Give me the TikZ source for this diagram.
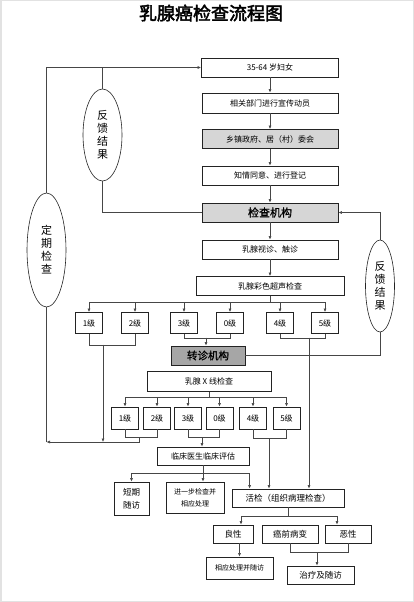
\documentclass[tikz,border=0pt]{standalone}
\usepackage{fontspec}
\newfontfamily\cjk{Noto Sans CJK SC}
\newfontfamily\cjkbold{Noto Sans CJK SC}[FakeBold=2.5]
\newfontfamily\cjkkey{Noto Sans CJK SC}[FakeBold=1]
\usetikzlibrary{arrows.meta,positioning,calc,shapes.geometric}
\definecolor{inkBlack}{RGB}{35,35,35}
\definecolor{inkLine}{RGB}{70,70,70}
\definecolor{fillLight}{RGB}{214,214,214}
\definecolor{fillDark}{RGB}{166,166,166}
\definecolor{frameGray}{RGB}{226,226,226}

\begin{document}
\begin{tikzpicture}[
    x=1pt, y=-1pt,
    box/.style={draw=inkBlack, fill=white, line width=0.8pt, inner sep=1pt, align=center, font=\cjk\fontsize{8pt}{10pt}\selectfont},
    hibox/.style={box, fill=fillLight},
    keybox/.style={box, fill=fillDark, font=\cjkkey\fontsize{10.5pt}{12pt}\selectfont},
    grade/.style={box, minimum width=27pt, minimum height=21pt},
    oval/.style={draw=inkBlack, ellipse, line width=0.6pt, inner sep=0pt, align=center, font=\cjk\fontsize{11pt}{13pt}\selectfont},
    arr/.style={-{Latex[length=3.5pt, width=3pt]}, line width=0.6pt, color=inkLine},
    ln/.style={line width=0.6pt, color=inkLine}
  ]
    \useasboundingbox (0,0) rectangle (414,602);
    \draw[frameGray, line width=1.5pt] (0.75,0.75) rectangle (413.25,601.25);

    \node[font=\cjkbold\fontsize{18pt}{21pt}\selectfont] (title) at (211,13) {乳腺癌检查流程图};

    % main chain
    \node[box, minimum width=137pt, minimum height=19pt] (women) at (270,67.5) {35-64 岁妇女};
    \node[box, minimum width=136pt, minimum height=20pt] (publicity) at (270,103) {相关部门进行宣传动员};
    \node[hibox, minimum width=136pt, minimum height=19pt] (township) at (270,139) {乡镇政府、居（村）委会};
    \node[box, minimum width=136pt, minimum height=19pt] (consent) at (270,175.5) {知情同意、进行登记};
    \node[hibox, minimum width=136pt, minimum height=19pt, font=\cjkkey\fontsize{11pt}{13pt}\selectfont] (inst) at (270,212.5) {检查机构};
    \node[box, minimum width=136pt, minimum height=19pt] (palpate) at (270,249.5) {乳腺视诊、触诊};
    \node[box, minimum width=148pt, minimum height=19pt] (ultra) at (270,286) {乳腺彩色超声检查};

    \draw[arr] (women) -- (publicity);
    \draw[arr] (publicity) -- (township);
    \draw[arr] (township) -- (consent);
    \draw[arr] (consent) -- (inst);
    \draw[arr] (inst) -- (palpate);
    \draw[arr] (palpate) -- (ultra);

    % ultrasound grades
    \foreach \n/\x in {1/89,2/135,3/184,0/230,4/280,5/325}
      \node[grade] (u\n) at (\x,323) {\n 级};
    \foreach \n in {1,2,3,0,4,5}
      \draw[arr] (ultra.south) -- ++(0,6) -| (u\n.north);

    \node[keybox, minimum width=74pt, minimum height=19pt] (refer) at (208,355.5) {转诊机构};
    \node[box, minimum width=124pt, minimum height=20pt] (xray) at (209,381.5) {乳腺 X 线检查};

    % mammography grades
    \foreach \n/\x in {1/125,2/157,3/188,0/219.5,4/253,5/286.5}
      \node[grade, minimum height=22pt] (m\n) at (\x,418) {\n 级};
    \foreach \n in {1,2,3,0,4,5}
      \draw[arr] (xray.south) -- ++(0,5.5) -| (m\n.north);

    % lower part
    \node[box, minimum width=92pt, minimum height=18pt] (eval) at (203,456) {临床医生临床评估};
    \node[box, minimum width=35pt, minimum height=33pt, font=\cjk\fontsize{8.5pt}{13pt}\selectfont] (short) at (131.5,498.5) {短期\\随访};
    \node[box, minimum width=58pt, minimum height=31pt, font=\cjk\fontsize{7pt}{12pt}\selectfont] (further) at (195,497.5) {进一步检查并\\相应处理};
    \node[box, minimum width=112pt, minimum height=18pt, font=\cjk\fontsize{8.5pt}{10pt}\selectfont] (biopsy) at (288,498) {活检（组织病理检查）};
    \node[box, minimum width=40pt, minimum height=18pt, font=\cjk\fontsize{8.5pt}{10pt}\selectfont] (benign) at (233,534) {良性};
    \node[box, minimum width=56pt, minimum height=18pt, font=\cjk\fontsize{8.5pt}{10pt}\selectfont] (precancer) at (290,534) {癌前病变};
    \node[box, minimum width=46pt, minimum height=18pt, font=\cjk\fontsize{8.5pt}{10pt}\selectfont] (malign) at (348,534) {恶性};
    \node[box, minimum width=67pt, minimum height=22pt, font=\cjk\fontsize{7pt}{9pt}\selectfont] (followup) at (239.5,568) {相应处理并随访};
    \node[box, minimum width=67pt, minimum height=18pt, font=\cjk\fontsize{8.5pt}{10pt}\selectfont] (treat) at (320.5,575) {治疗及随访};

    % feedback ovals
    \node[oval, minimum width=39pt, minimum height=92pt] (fbTop) at (102.5,135) {反\\馈\\结\\果};
    \node[oval, minimum width=39pt, minimum height=114pt] (fbPeriod) at (46.5,250) {定\\期\\检\\查};
    \node[oval, minimum width=29pt, minimum height=92pt] (fbRight) at (380,286) {反\\馈\\结\\果};

    \coordinate (back) at (46.5,442);
    \coordinate (u12) at (103,344.5);
    \coordinate (u30) at (206,337.5);
    \coordinate (u45) at (309,337.5);
    \coordinate (m12) at (139,437);
    \coordinate (m30) at (202,437);
    \coordinate (m45) at (269,438);
    \coordinate (pm) at (317,552);

    % grade brackets, first row
    \draw[ln] (u1.south) -- ++(0,11) -| (u2.south);
    \draw[ln] (u3.south) -- ++(0,4) -| (u0.south);
    \draw[ln] (u4.south) -- ++(0,4) -| (u5.south);
    \draw[arr] (u12) -- (u12 |- back);
    \draw[arr] (u30) -- (u30 |- refer.north);
    \draw[arr] (u45) -- (u45 |- biopsy.north);

    % grade brackets, second row
    \draw[ln] (m1.south) -- ++(0,8) -| (m2.south);
    \draw[ln] (m3.south) -- ++(0,8) -| (m0.south);
    \draw[ln] (m4.south) -- ++(0,9) -| (m5.south);
    \draw[arr] (m12) |- (back);
    \draw[arr] (m30) -- (m30 |- eval.north);
    \draw[arr] (m45) -- (m45 |- biopsy.north);

    % feedback loops
    \draw[ln] (back) -- (fbPeriod.south);
    \draw[arr] (fbPeriod.north) |- (women.west);
    \draw[ln] (fbTop.north) -- (fbTop.north |- women.west);
    \draw[ln] (fbTop.south) |- (inst.west);
    \draw[arr] (fbRight.north) |- (inst.east);
    \draw[ln] (fbRight.south) |- (refer.east);

    % evaluation and pathology
    \draw[arr] (eval.south) -- ++(0,8) -| (short.north);
    \draw[arr] (eval.south) -- (eval.south |- further.north);
    \draw[arr] (eval.south) -- ++(0,8) -| ($(biopsy.north west)+(18,0)$);
    \draw[arr] (biopsy.south) -- ++(0,9) -| ($(benign.north)+(8,0)$);
    \draw[arr] (biopsy.south) -- ++(0,9) -| ($(malign.north)+(-11,0)$);
    \draw[arr] (followup.north |- benign.south) -- (followup.north);
    \draw[ln] (precancer.south) -- ++(0,9) -| (malign.south);
    \draw[arr] (pm) -- (pm |- treat.north);
\end{tikzpicture}
\end{document}
